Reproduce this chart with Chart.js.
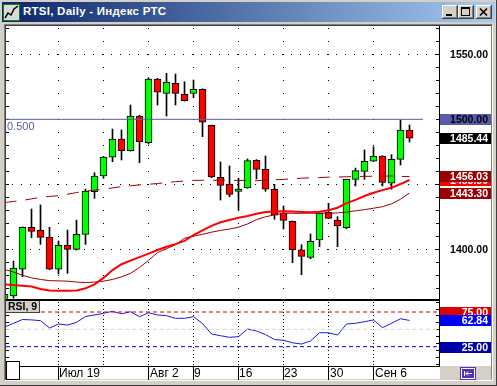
<!DOCTYPE html>
<html>
<head>
<meta charset="utf-8">
<script src="https://cdn.jsdelivr.net/npm/chart.js@4.4.0/dist/chart.umd.min.js"></script>
<style>
  body { margin: 0; width: 497px; height: 386px; background: #d4d0c8; position: relative; overflow: hidden; font-family: "Liberation Sans", Arial, sans-serif; }
  .abs { position: absolute; }
  #title { left: 2px; top: 2px; width: 493px; height: 20px; background: linear-gradient(to right, #0a246a, #a6caf0); }
  #title span { position: absolute; left: 21px; top: 3px; color: #fff; font-weight: bold; font-size: 11.5px; line-height: 13px; letter-spacing: 0.25px; white-space: nowrap; }
  #rsiTag { left: 6px; top: 301px; width: 34px; height: 12px; background: #d4d0c8; border-right: 1px solid #404040; border-bottom: 1px solid #404040; box-sizing: border-box; font-weight: bold; font-size: 10.5px; line-height: 11px; padding-left: 2px; white-space: nowrap; }
  canvas { position: absolute; }
</style>
</head>
<body>
<div class="abs" style="left:0;top:0;width:496px;height:385px;border-right:1px solid #404040;border-bottom:1px solid #404040"></div>
<div id="title" class="abs">
  <svg class="abs" style="left:1px;top:2px" width="17" height="17">
    <rect x="0.5" y="0.5" width="16" height="16" fill="#d8dcd8" stroke="#207820"/>
    <polyline points="2,14 5,9 8,11 11,5 15,2" fill="none" stroke="#000" stroke-width="1.5"/>
  </svg>
  <span>RTSI, Daily - Индекс РТС</span>
  <svg class="abs" style="left:440px;top:3px" width="50" height="14">
    <g shape-rendering="crispEdges">
      <rect x="0" width="16" height="14" fill="#404040"/><rect x="0" width="15" height="13" fill="#fff"/><rect x="1" y="1" width="14" height="12" fill="#808080"/><rect x="1" y="1" width="13" height="11" fill="#d4d0c8"/>
      <rect x="4" y="9" width="6" height="2" fill="#000"/>
      <rect x="16" width="16" height="14" fill="#404040"/><rect x="16" width="15" height="13" fill="#fff"/><rect x="17" y="1" width="14" height="12" fill="#808080"/><rect x="17" y="1" width="13" height="11" fill="#d4d0c8"/>
      <rect x="19" y="2" width="9" height="2" fill="#000"/><rect x="19" y="2" width="1" height="9" fill="#000"/><rect x="27" y="2" width="1" height="9" fill="#000"/><rect x="19" y="10" width="9" height="1" fill="#000"/>
      <rect x="34" width="16" height="14" fill="#404040"/><rect x="34" width="15" height="13" fill="#fff"/><rect x="35" y="1" width="14" height="12" fill="#808080"/><rect x="35" y="1" width="13" height="11" fill="#d4d0c8"/>
    </g>
    <path d="M38 3.5 L45 10.5 M45 3.5 L38 10.5" stroke="#000" stroke-width="1.6"/>
  </svg>
</div>
<div class="abs" style="left:4px;top:24px;width:489px;height:357px;box-sizing:border-box;border-left:1px solid #808080;border-top:1px solid #808080;border-right:1px solid #fff;border-bottom:1px solid #fff"></div>
<div class="abs" style="left:5px;top:25px;width:487px;height:355px;box-sizing:border-box;border-left:1px solid #404040;border-top:1px solid #404040;border-right:1px solid #808080;border-bottom:1px solid #d4d0c8"></div>
<div class="abs" style="left:6px;top:26px;width:485px;height:340px;background:#fff"></div>
<div class="abs" style="left:6px;top:366px;width:434px;height:13px;background:#fff"></div>
<canvas id="gridPrice" width="485" height="273" style="left:6px;top:26px"></canvas>
<canvas id="price" width="485" height="273" style="left:6px;top:26px"></canvas>
<div class="abs" style="left:6px;top:299px;width:434px;height:2px;background:#000"></div>
<canvas id="gridOsc" width="485" height="79" style="left:6px;top:301px"></canvas>
<canvas id="osc" width="485" height="79" style="left:6px;top:301px"></canvas>
<div id="rsiTag" class="abs">RSI, 9</div>
<div class="abs" style="left:6px;top:361px;width:14px;height:19px;box-sizing:border-box;border:1px solid #000;background:#fff"></div>
<svg class="abs" style="left:460px;top:367px" width="16" height="13">
  <rect width="16" height="13" fill="#5530b4"/>
  <rect x="1.5" y="1.5" width="13" height="10" fill="none" stroke="#fff"/>
  <path d="M4.5 4 V9 M12 6.5 H6 M8 4.5 L6 6.5 L8 8.5" fill="none" stroke="#fff"/>
</svg>
<script>
// RTSI daily, 9 Jul - 10 Sep; index 0 is the first candle
const opens  = [1358.0, 1364.1, 1384.8, 1416.9, 1414.8, 1409.2, 1384.8, 1403.1, 1400.0, 1411.5,
                1444.3, 1456.4, 1470.8, 1484.8, 1475.8, 1502.5, 1482.0, 1531.0, 1520.0, 1527.7,
                1519.2, 1520.0, 1523.1, 1495.4, 1455.4, 1450.2, 1444.6, 1447.2, 1468.5, 1461.5,
                1446.2, 1427.7, 1421.5, 1399.5, 1393.8, 1407.2, 1428.5, 1422.5, 1416.6, 1453.8,
                1460.0, 1467.7, 1471.8, 1450.8, 1469.2, 1491.8];
const highs  = [1366.0, 1391.0, 1417.2, 1431.0, 1434.1, 1416.9, 1406.4, 1414.8, 1422.5, 1446.3,
                1458.9, 1471.5, 1492.5, 1491.8, 1511.0, 1503.0, 1532.0, 1531.5, 1535.4, 1534.8,
                1528.9, 1530.2, 1523.5, 1495.5, 1467.2, 1464.1, 1454.6, 1469.5, 1469.0, 1471.8,
                1450.0, 1433.3, 1421.8, 1403.5, 1411.8, 1428.0, 1435.4, 1425.1, 1454.0, 1462.5,
                1476.4, 1478.9, 1472.0, 1472.8, 1499.5, 1495.6];
const lows   = [1355.0, 1362.5, 1378.9, 1408.9, 1403.8, 1384.3, 1381.0, 1381.5, 1399.5, 1403.8,
                1439.2, 1454.6, 1467.4, 1468.7, 1475.5, 1466.6, 1481.0, 1511.0, 1502.5, 1511.0,
                1514.0, 1516.6, 1486.6, 1455.0, 1437.9, 1440.5, 1430.2, 1447.0, 1454.1, 1444.6,
                1423.1, 1415.6, 1389.7, 1380.5, 1392.8, 1402.0, 1423.5, 1402.0, 1415.8, 1448.7,
                1453.8, 1467.5, 1448.7, 1446.2, 1464.8, 1482.5];
const closes = [1365.4, 1385.6, 1416.9, 1413.8, 1409.2, 1384.8, 1403.1, 1400.0, 1411.5, 1444.8,
                1456.4, 1471.0, 1484.8, 1475.8, 1502.5, 1482.8, 1531.0, 1520.8, 1528.7, 1520.0,
                1514.3, 1523.1, 1497.7, 1455.6, 1449.2, 1442.3, 1446.4, 1468.2, 1461.5, 1446.2,
                1426.2, 1422.3, 1399.5, 1394.6, 1406.2, 1427.7, 1423.8, 1417.9, 1453.8, 1460.5,
                1467.7, 1471.8, 1451.5, 1469.2, 1491.8, 1485.44];

// moving averages
const maLong = [1436.0, 1436.8, 1437.6, 1438.8, 1440.0, 1440.7, 1441.2, 1442.4, 1443.6, 1444.8,
                1445.5, 1446.2, 1447.2, 1448.3, 1448.9, 1449.5, 1450.0, 1450.6, 1451.3, 1452.0,
                1452.5, 1453.0, 1453.1, 1453.1, 1453.1, 1453.1, 1453.0, 1452.9, 1452.8, 1453.0,
                1453.5, 1453.8, 1454.2, 1454.7, 1455.0, 1455.2, 1455.5, 1455.6, 1455.8, 1456.0,
                1456.1, 1456.2, 1456.3, 1456.4, 1456.0, 1456.03];
const maFast = [1373.0, 1372.6, 1372.0, 1371.3, 1369.5, 1368.3, 1368.2, 1368.2, 1368.3, 1370.0,
                1373.0, 1378.0, 1384.0, 1388.5, 1391.3, 1394.0, 1396.7, 1399.5, 1402.0, 1404.0,
                1406.5, 1411.0, 1414.5, 1418.0, 1420.8, 1422.6, 1424.2, 1425.6, 1427.3, 1428.7,
                1429.0, 1429.2, 1429.0, 1428.7, 1428.5, 1428.9, 1430.0, 1432.0, 1435.5, 1438.0,
                1441.0, 1443.5, 1445.5, 1447.3, 1450.2, 1453.3];
const maSlow = [1384.5, 1382.5, 1380.0, 1378.0, 1376.8, 1375.9, 1375.7, 1375.5, 1374.8, 1374.4,
                1374.8, 1375.5, 1376.8, 1378.8, 1381.5, 1386.0, 1391.5, 1397.5, 1400.5, 1403.5,
                1408.5, 1410.2, 1411.5, 1413.2, 1414.5, 1415.6, 1417.0, 1419.5, 1422.8, 1425.0,
                1426.5, 1427.7, 1427.7, 1427.7, 1427.8, 1427.8, 1427.8, 1428.0, 1428.6, 1429.6,
                1430.5, 1431.6, 1432.8, 1435.0, 1438.5, 1443.30];

const rsi = [53.1, 58.7, 64.2, 63.6, 62.5, 51.9, 57.7, 56.2, 60.1, 68.5,
             70.7, 73.1, 76.0, 72.4, 75.4, 68.2, 74.0, 70.7, 69.7, 65.9,
             65.9, 68.2, 58.4, 43.3, 40.8, 38.5, 39.4, 50.5, 47.6, 42.5,
             35.3, 34.2, 30.6, 28.8, 33.2, 45.1, 45.1, 41.8, 57.7, 58.7,
             61.0, 63.5, 52.4, 58.7, 65.3, 62.84];
const rsiHigh = 75;
const rsiMid = 50;
const rsiLow = 25;

const fibLevel = 1500;
const fibLabel = '0.500';
const fibEnd = 46.5;
const priceLabels = [1400, 1550];
const priceGrid = [1400, 1450, 1550];
const weekIdx = [6, 11, 16, 21, 26, 31, 36, 41];
const weekLabels = ['Июл 19', '', 'Авг 2', '9', '16', '23', '30', 'Сен 6'];

const xMin = 1 / 6;
const xMax = xMin + 433 / 9;
const pts = arr => arr.map((v, i) => ({ x: i, y: v }));
const flat = v => [{ x: xMin, y: v }, { x: xMax, y: v }];
const fmt = v => v.toFixed(2);
const last = arr => arr[arr.length - 1];

Chart.defaults.font.family = '"Liberation Sans", Arial, sans-serif';

function tag(chart, v, text, bg, fg) {
  const { ctx, chartArea: a, scales: { y } } = chart;
  const py = Math.round(y.getPixelForValue(v));
  ctx.save();
  if (bg) {
    ctx.fillStyle = bg;
    ctx.fillRect(a.right + 1, py - 5, 51, 11);
  }
  ctx.fillStyle = fg;
  ctx.font = 'bold 10.5px "Liberation Sans", Arial, sans-serif';
  ctx.textAlign = 'right';
  ctx.textBaseline = 'middle';
  ctx.fillText(text, a.right + 49, py + 1);
  ctx.restore();
}

const priceDecor = {
  id: 'priceDecor',
  afterDraw(chart) {
    const { ctx, chartArea: a, scales: { y } } = chart;
    ctx.save();
    ctx.fillStyle = '#5a5aa8';
    ctx.font = '11px "Liberation Sans", Arial, sans-serif';
    ctx.textBaseline = 'alphabetic';
    ctx.fillText(fibLabel, a.left + 1, y.getPixelForValue(fibLevel) + 11);
    ctx.restore();
    priceLabels.forEach(v => tag(chart, v, fmt(v), null, '#000'));
    tag(chart, fibLevel, fmt(fibLevel), '#5b5bab', '#000');
    tag(chart, last(maFast), fmt(last(maFast)), '#ff0000', '#fff');
    tag(chart, last(maLong), fmt(last(maLong)), '#9c0000', '#fff');
    tag(chart, last(maSlow), fmt(last(maSlow)), '#9c0000', '#fff');
    tag(chart, last(closes), fmt(last(closes)), '#000', '#fff');
  }
};

const oscDecor = {
  id: 'oscDecor',
  afterDraw(chart) {
    const { ctx, chartArea: a, scales: { x } } = chart;
    ctx.save();
    ctx.fillStyle = '#000';
    ctx.font = '12px "Liberation Sans", Arial, sans-serif';
    ctx.textAlign = 'left';
    ctx.textBaseline = 'alphabetic';
    weekIdx.forEach((idx, k) => {
      if (weekLabels[k]) ctx.fillText(weekLabels[k], Math.round(x.getPixelForValue(idx)) + 1, a.bottom + 11);
    });
    ctx.restore();
    tag(chart, rsiHigh, fmt(rsiHigh), '#dd0000', '#fff');
    tag(chart, last(rsi), fmt(last(rsi)), '#0000ff', '#fff');
    tag(chart, rsiLow, fmt(rsiLow), '#0000a8', '#fff');
  }
};

const xAxis = (extra) => Object.assign({
  type: 'linear',
  min: xMin,
  max: xMax,
  offset: false,
  ticks: { display: false },
  afterBuildTicks: s => { s.ticks = weekIdx.map(v => ({ value: v })); }
}, extra);

const priceChart = new Chart(document.getElementById('price'), {
  type: 'bar',
  data: {
    datasets: [
      { type: 'line', data: pts(maFast), borderColor: '#ff0000', borderWidth: 2, pointRadius: 0, order: 0, clip: 0 },
      { type: 'line', data: pts(maSlow), borderColor: '#9c0000', borderWidth: 1, pointRadius: 0, order: 1, clip: 0 },
      { type: 'line', data: pts(maLong), borderColor: '#9c0000', borderWidth: 1, borderDash: [12, 9], pointRadius: 0, order: 2, clip: 0 },
      { type: 'line', data: [{ x: xMin, y: fibLevel }, { x: fibEnd, y: fibLevel }], borderColor: '#5a5aa8', borderWidth: 1, pointRadius: 0, order: 3, clip: 0 },
      {
        type: 'bar', data: opens.map((o, i) => ({ x: i, y: [o, closes[i]] })),
        backgroundColor: opens.map((o, i) => closes[i] >= o ? '#00ff00' : '#ff0000'),
        borderColor: '#000', borderWidth: 1, borderSkipped: false,
        barThickness: 7, grouped: false, order: 4, clip: 0
      },
      {
        type: 'bar', data: lows.map((l, i) => ({ x: i, y: [l, highs[i]] })),
        backgroundColor: '#000', borderWidth: 0,
        barThickness: 1, grouped: false, order: 5, clip: 0
      }
    ]
  },
  options: {
    responsive: false,
    animation: false,
    devicePixelRatio: 1,
    layout: { padding: 0 },
    plugins: { legend: { display: false }, tooltip: { enabled: false } },
    scales: {
      x: xAxis({
        grid: { display: false },
        border: { display: false },
        afterFit: s => { s.height = 0; }
      }),
      y: {
        type: 'linear',
        position: 'right',
        min: 1361.77,
        max: 1571.77,
        ticks: { display: false, stepSize: 10, includeBounds: false },
        grid: { display: false },
        border: { display: true, color: '#000' },
        afterFit: s => { s.width = 52; }
      }
    }
  },
  plugins: [priceDecor]
});

const oscChart = new Chart(document.getElementById('osc'), {
  type: 'line',
  data: {
    datasets: [
      { data: flat(rsiMid), borderColor: '#d8d8d8', borderWidth: 1, borderDash: [4, 3], pointRadius: 0, clip: 0 },
      { data: flat(rsiHigh), borderColor: '#dd0000', borderWidth: 1, borderDash: [4, 3], pointRadius: 0, clip: 0 },
      { data: flat(rsiLow), borderColor: '#0000dd', borderWidth: 1, borderDash: [4, 3], pointRadius: 0, clip: 0 },
      { data: pts(rsi), borderColor: '#1a1ae0', borderWidth: 1, pointRadius: 0, clip: 0 }
    ]
  },
  options: {
    responsive: false,
    animation: false,
    devicePixelRatio: 1,
    layout: { padding: 0 },
    plugins: { legend: { display: false }, tooltip: { enabled: false } },
    scales: {
      x: xAxis({
        grid: {
          drawOnChartArea: false, drawTicks: true, tickLength: 14,
          tickColor: c => weekLabels[c.index] ? '#000' : 'rgba(0,0,0,0)'
        },
        border: { display: true, color: '#000' },
        afterFit: s => { s.height = 14; }
      }),
      y: {
        type: 'linear',
        position: 'right',
        min: -2.89,
        max: 90.87,
        ticks: { display: false, stepSize: 10, includeBounds: false },
        grid: { drawOnChartArea: false, drawTicks: false },
        border: { display: true, color: '#000' },
        afterFit: s => { s.width = 52; }
      }
    }
  },
  plugins: [oscDecor]
});

// dotted grid and inner tick marks, painted on a canvas lying under each chart,
// placed with the chart's own scales
function underlay(id, chart, tickStep, dotStep, rowLevels) {
  const ctx = document.getElementById(id).getContext('2d');
  const a = chart.chartArea;
  const x = chart.scales.x;
  const y = chart.scales.y;
  ctx.fillStyle = '#000';
  const levels = step => {
    const out = [];
    for (let v = Math.ceil(y.min / step) * step; v <= y.max; v += step) out.push(v);
    return out;
  };
  levels(tickStep).forEach(v => {
    const py = Math.round(y.getPixelForValue(v));
    ctx.fillRect(a.left, py, 3, 1);
    ctx.fillRect(a.right - 3, py, 3, 1);
  });
  weekIdx.forEach(idx => {
    const px = Math.floor(x.getPixelForValue(idx));
    levels(dotStep).forEach(v => {
      const py = Math.round(y.getPixelForValue(v));
      if (py > a.top && py < a.bottom) ctx.fillRect(px, py, 1, 1);
    });
  });
  rowLevels.forEach(v => {
    const py = Math.round(y.getPixelForValue(v));
    for (let i = 0; i <= Math.ceil(xMax); i++) {
      const px = Math.floor(x.getPixelForValue(i)) - 1;
      if (px > a.left + 3 && px < a.right - 3) ctx.fillRect(px, py, 1, 1);
    }
  });
}

underlay('gridPrice', priceChart, 10, 10, priceGrid);
underlay('gridOsc', oscChart, 10, 5, []);
</script>
</body>
</html>
